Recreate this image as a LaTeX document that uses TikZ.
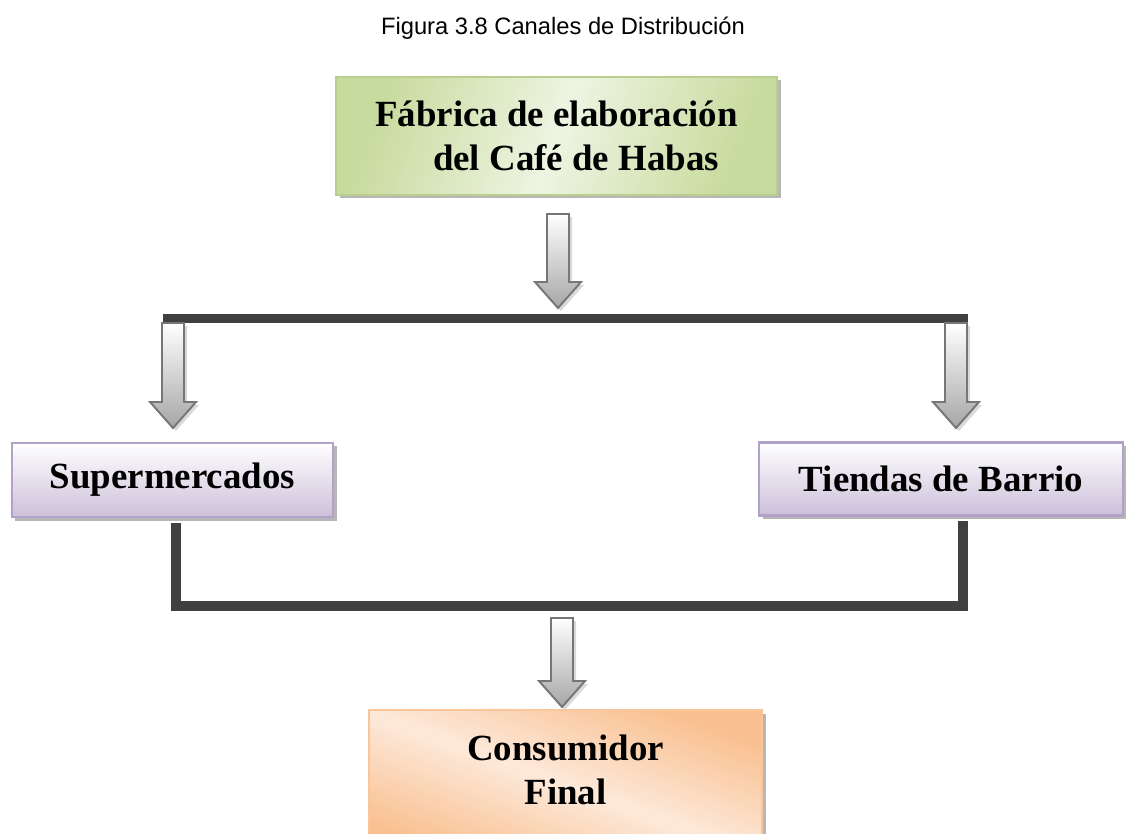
\documentclass[tikz,border=0pt]{standalone}
\usepackage{fontspec}
\setmainfont{Liberation Serif}
\newfontfamily\arialfont{Liberation Sans}
\usetikzlibrary{calc,shadows}

\definecolor{barra}{HTML}{404040}
\definecolor{verdeO}{HTML}{C8DB9E}
\definecolor{verdeC}{HTML}{EEF4E2}
\definecolor{verdeB}{HTML}{B9CF8E}
\definecolor{moradoO}{HTML}{CCC0DA}
\definecolor{moradoB}{HTML}{B3A2C7}
\definecolor{naranjaO}{HTML}{F9BF8E}
\definecolor{naranjaC}{HTML}{FDE9DA}
\definecolor{naranjaB}{HTML}{F9C59A}
\definecolor{flechaB}{HTML}{767676}

\tikzset{
  caja/.style={draw, line width=1.2pt, inner sep=0pt,
    font=\fontsize{21}{25}\selectfont\bfseries,
    drop shadow={shadow xshift=0.07cm, shadow yshift=-0.07cm, fill=gray!70, opacity=0.8}},
  cajaverde/.style={caja, draw=verdeB, left color=verdeO, right color=verdeO,
    middle color=verdeC, shading angle=70},
  cajamorada/.style={caja, draw=moradoB, top color=white, bottom color=moradoO},
  cajanaranja/.style={caja, draw=naranjaB, left color=naranjaO, right color=naranjaO,
    middle color=naranjaC, shading angle=160},
  linea/.style={draw=barra, line join=miter},
  flecha/.style={draw=flechaB, line width=1.1pt, top color=white, bottom color=gray!70},
  sombra/.style={fill=gray!30},
}

% block arrow from #1 (top) down to #2 (tip)
\newcommand\flechabaja[2]{%
  \fill[sombra] ($(#1)+(-8,3)$) -- ($(#1)+(14,3)$) -- ($(#2)+(14,-23)$)
    -- ($(#2)+(26,-23)$) -- ($(#2)+(3,3)$) -- ($(#2)+(-20,-23)$)
    -- ($(#2)+(-8,-23)$) -- cycle;
  \path[flecha] ($(#1)+(-11,0)$) -- ($(#1)+(11,0)$) -- ($(#2)+(11,-26)$)
    -- ($(#2)+(23,-26)$) -- (#2) -- ($(#2)+(-23,-26)$)
    -- ($(#2)+(-11,-26)$) -- cycle;
}

\begin{document}
\begin{tikzpicture}[x=0.02cm, y=-0.02cm]
  \clip (0,0) rectangle (1126,834);
  \fill[white] (0,0) rectangle (1126,834);

  \node[font=\arialfont\fontsize{13.5}{16}\selectfont, anchor=base] (titulo)
    at (563,35) {Figura 3.8 Canales de Distribución};

  % boxes
  \node[cajaverde, minimum width=441*0.02cm, minimum height=118*0.02cm,
    align=left] (fabrica) at (556.5,136)
    {Fábrica de elaboración\\\hspace*{33pt}del Café de Habas};
  \node[cajamorada, minimum width=321*0.02cm, minimum height=74*0.02cm]
    (super) at (172.5,480) {Supermercados};
  \node[cajamorada, minimum width=364*0.02cm, minimum height=73*0.02cm]
    (tiendas) at (941,479) {Tiendas de Barrio};
  \node[cajanaranja, minimum width=393*0.02cm, minimum height=150*0.02cm]
    (consumidor) at (565.5,785) {};
  \node[font=\fontsize{21}{25}\selectfont\bfseries, align=center]
    (consTexto) at (565.5,770) {Consumidor\\Final};

  % bars
  \coordinate (barI) at (163,318.5);
  \coordinate (barD) at (968,318.5);
  \path[linea, line width=5.1pt] (barI) -- (barD);

  \coordinate (supB) at (176,523);
  \coordinate (tieB) at (963,521);
  \coordinate (uniI) at (176,606);
  \coordinate (uniD) at (963,606);
  \path[linea, line width=6.2pt] (supB) -- (uniI) -- (uniD) -- (tieB);

  % arrows
  \coordinate (f1a) at (558,214);
  \coordinate (f1b) at (558,308);
  \coordinate (f2a) at (173,323);
  \coordinate (f2b) at (173,428);
  \coordinate (f3a) at (956,323);
  \coordinate (f3b) at (956,428);
  \coordinate (f4a) at (562,618);
  \coordinate (f4b) at (562,707);
  \flechabaja{f1a}{f1b}
  \flechabaja{f2a}{f2b}
  \flechabaja{f3a}{f3b}
  \flechabaja{f4a}{f4b}
\end{tikzpicture}
\end{document}
